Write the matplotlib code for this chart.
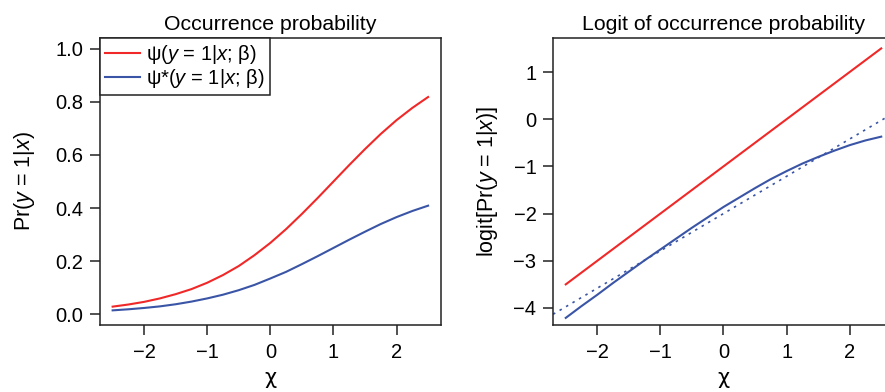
import matplotlib
matplotlib.use("Agg")
import matplotlib.pyplot as plt
import numpy as np

plt.rcParams['font.family'] = ['Liberation Sans', 'DejaVu Sans']
plt.rcParams['mathtext.fontset'] = 'custom'
plt.rcParams['mathtext.rm'] = 'Liberation Sans'
plt.rcParams['mathtext.it'] = 'Liberation Sans:italic'

# covariate grid (every 0.25)
x_vals = [-2.5, -2.25, -2.0, -1.75, -1.5, -1.25, -1.0, -0.75, -0.5, -0.25, 0.0,
          0.25, 0.5, 0.75, 1.0, 1.25, 1.5, 1.75, 2.0, 2.25, 2.5]

# occurrence probability psi and psi*
psi_prob = [0.029, 0.037, 0.047, 0.060, 0.076, 0.095, 0.119, 0.148, 0.182, 0.223, 0.269,
            0.321, 0.378, 0.438, 0.500, 0.562, 0.622, 0.679, 0.731, 0.777, 0.818]
psi_star_prob = [0.015, 0.019, 0.024, 0.030, 0.038, 0.048, 0.060, 0.074, 0.091, 0.111, 0.135,
                 0.160, 0.189, 0.219, 0.250, 0.281, 0.311, 0.340, 0.366, 0.389, 0.409]

# logit scale
psi_logit = [-3.5, -3.25, -3.0, -2.75, -2.5, -2.25, -2.0, -1.75, -1.5, -1.25, -1.0,
             -0.75, -0.5, -0.25, 0.0, 0.25, 0.5, 0.75, 1.0, 1.25, 1.5]
psi_star_logit = [-4.21, -3.96, -3.72, -3.47, -3.23, -2.99, -2.76, -2.53, -2.30, -2.08, -1.86,
                  -1.66, -1.46, -1.27, -1.10, -0.94, -0.80, -0.67, -0.55, -0.45, -0.37]

# linear fit shown dotted on the logit panel
fit_intercept = -2.0
fit_slope = 0.79

x_ticks = [-2, -1, 0, 1, 2]
prob_ticks = [0.0, 0.2, 0.4, 0.6, 0.8, 1.0]
logit_ticks = [-4, -3, -2, -1, 0, 1]

red = '#f02828'
blue = '#3a55a6'

fig = plt.figure(figsize=(8.85, 3.92), dpi=100)
ax1 = fig.add_axes([0.113, 0.171, 0.385, 0.732])
ax2 = fig.add_axes([0.625, 0.171, 0.385, 0.732])

for ax in (ax1, ax2):
    for s in ax.spines.values():
        s.set_linewidth(1.1)
        s.set_color('#222222')
    ax.tick_params(direction='out', length=7, width=1.1, labelsize=14.5, color='#222222')
    ax.tick_params(axis='x', pad=6)
    ax.tick_params(axis='y', pad=5)
    ax.set_xlim(-2.7, 2.7)
    ax.set_xticks(x_ticks)
    ax.set_xlabel('χ', fontsize=15, family=['DejaVu Sans'], labelpad=4)

# left panel
ax1.plot(x_vals, psi_prob, color=red, lw=1.5, label='ψ($\\mathit{y}$ = 1|$\\mathit{x}$; β)')
ax1.plot(x_vals, psi_star_prob, color=blue, lw=1.5, label='ψ*($\\mathit{y}$ = 1|$\\mathit{x}$; β)')
ax1.set_ylim(-0.04, 1.04)
ax1.set_yticks(prob_ticks)
ax1.set_yticklabels([f'{v:.1f}' for v in prob_ticks])
ax1.set_title('Occurrence probability', fontsize=15.3, pad=6)
ax1.set_ylabel('Pr($\\mathit{y}$ = 1|$\\mathit{x}$)', fontsize=15.5)
ax1.yaxis.set_label_coords(-0.185, 0.5)
leg = ax1.legend(loc='upper left', borderaxespad=0, fontsize=14.5, fancybox=False,
                 framealpha=1, edgecolor='#222222', handlelength=1.75,
                 handletextpad=0.3, borderpad=0.25, labelspacing=0.05)
leg.get_frame().set_linewidth(1.1)

# right panel
ax2.plot(x_vals, psi_logit, color=red, lw=1.5)
ax2.plot(x_vals, psi_star_logit, color=blue, lw=1.5)
ax2.axline((0, fit_intercept), slope=fit_slope, color=blue, lw=1.2, ls=(0, (1.5, 3)))
ax2.set_ylim(-4.36, 1.72)
ax2.set_yticks(logit_ticks)
ax2.set_title('Logit of occurrence probability', fontsize=15.3, pad=6)
ax2.set_ylabel('logit[Pr($\\mathit{y}$ = 1|$\\mathit{x}$)]', fontsize=15.5)
ax2.yaxis.set_label_coords(-0.155, 0.5)

fig.savefig('out.png', dpi=100)
